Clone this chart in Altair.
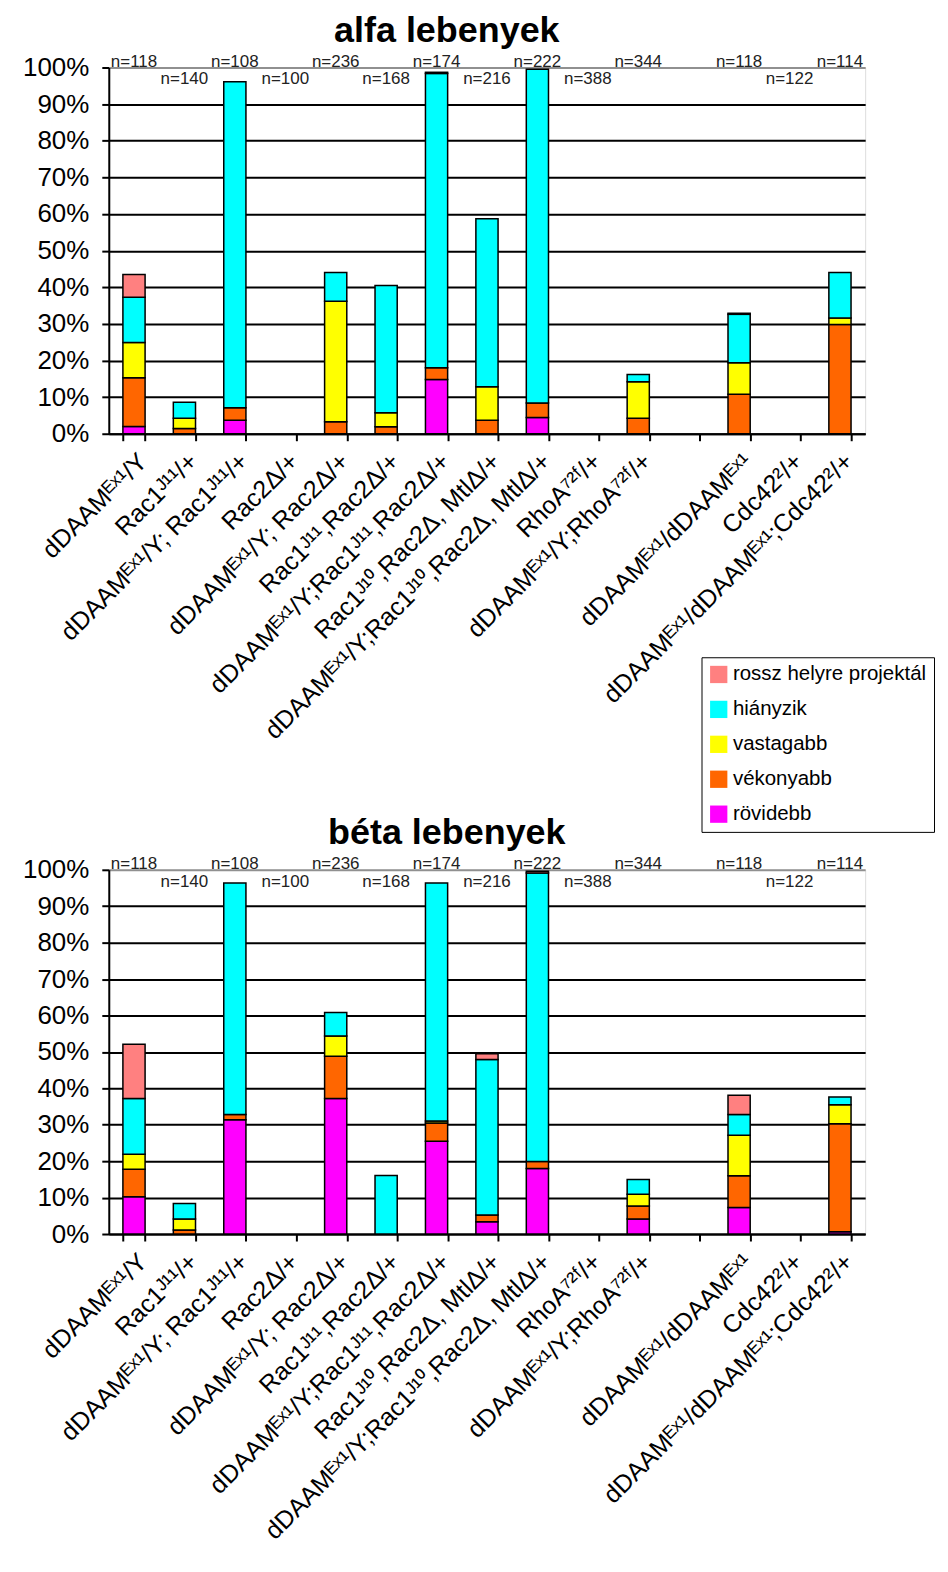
import altair as alt
import pandas as pd

FONT = "Liberation Sans"

categories = [
    "dDAAMᴱˣ¹/Y",
    "Rac1ᴶ¹¹/+",
    "dDAAMᴱˣ¹/Y; Rac1ᴶ¹¹/+",
    "Rac2Δ/+",
    "dDAAMᴱˣ¹/Y; Rac2Δ/+",
    "Rac1ᴶ¹¹,Rac2Δ/+",
    "dDAAMᴱˣ¹/Y;Rac1ᴶ¹¹,Rac2Δ/+",
    "Rac1ᴶ¹⁰,Rac2Δ, MtlΔ/+",
    "dDAAMᴱˣ¹/Y;Rac1ᴶ¹⁰,Rac2Δ, MtlΔ/+",
    "RhoA⁷²ᶠ/+",
    "dDAAMᴱˣ¹/Y;RhoA⁷²ᶠ/+",
    " ",
    "dDAAMᴱˣ¹/dDAAMᴱˣ¹",
    "Cdc42²/+",
    "dDAAMᴱˣ¹/dDAAMᴱˣ¹;Cdc42²/+",
]

n_counts = [118, 140, 108, 100, 236, 168, 174, 216, 222, 388, 344, None, 118, 122, 114]

series_stack = ["rövidebb", "vékonyabb", "vastagabb", "hiányzik", "rossz helyre projektál"]
legend_order = ["rossz helyre projektál", "hiányzik", "vastagabb", "vékonyabb", "rövidebb"]
legend_colors = ["#FF8080", "#00FFFF", "#FFFF00", "#FF6600", "#FF00FF"]

# alfa lebenyek (percent)
alfa_rovidebb = [2.0, 0, 3.7, 0, 0, 0, 14.8, 0, 4.4, 0, 0, 0, 0, 0, 0]
alfa_vekonyabb = [13.3, 1.4, 3.4, 0, 3.3, 1.9, 3.2, 3.7, 4.0, 0, 4.2, 0, 10.8, 0, 29.8]
alfa_vastagabb = [9.6, 2.8, 0, 0, 32.9, 3.8, 0, 9.1, 0, 0, 10.0, 0, 8.6, 0, 1.8]
alfa_hianyzik = [12.4, 4.4, 89.0, 0, 7.8, 34.8, 80.4, 45.9, 91.1, 0, 2.0, 0, 13.2, 0, 12.4]
alfa_rossz = [6.2, 0, 0, 0, 0, 0, 0.3, 0, 0, 0, 0, 0, 0.3, 0, 0]

# béta lebenyek (percent)
beta_rovidebb = [10.2, 0, 31.4, 0, 37.2, 0, 25.5, 3.4, 18.0, 0, 4.1, 0, 7.3, 0, 0.6]
beta_vekonyabb = [7.6, 1.1, 1.4, 0, 11.6, 0, 5.0, 1.8, 1.9, 0, 3.6, 0, 8.7, 0, 29.7]
beta_vastagabb = [4.1, 3.0, 0, 0, 5.6, 0, 0.5, 0, 0, 0, 3.2, 0, 11.1, 0, 5.2]
beta_hianyzik = [15.3, 4.3, 63.6, 0, 6.4, 16.1, 65.4, 42.7, 79.2, 0, 4.1, 0, 5.7, 0, 2.1]
beta_rossz = [14.9, 0, 0, 0, 0, 0, 0, 1.6, 0.5, 0, 0, 0, 5.3, 0, 0]


def long_table(cols):
    rows = []
    for i, c in enumerate(categories):
        for k, (s, vals) in enumerate(zip(series_stack, cols)):
            rows.append({"cat": c, "series": s, "rank": k, "value": vals[i]})
    return pd.DataFrame(rows)


def n_table():
    rows = []
    for i, (c, n) in enumerate(zip(categories, n_counts)):
        if n is not None:
            rows.append({"cat": c, "slot": i, "label": f"n={n}"})
    return pd.DataFrame(rows)


x_scale = alt.Scale(domain=categories, paddingInner=0.56, paddingOuter=0.28)
y_scale = alt.Scale(domain=[0, 100], nice=False)

x_axis = alt.Axis(
    title=None, labelAngle=-45, labelFontSize=25, labelFont=FONT, labelColor="black",
    labelPadding=8, labelLimit=0, labelOverlap=False, tickBand="extent", tickSize=7,
    tickColor="black", tickWidth=2, domainColor="black", domainWidth=2, grid=False,
)
y_axis = alt.Axis(
    title=None, values=list(range(0, 101, 10)), labelExpr="datum.value + '%'",
    labelFontSize=26, labelFont=FONT, labelColor="black", labelPadding=13,
    tickSize=7, tickColor="black", tickWidth=2, domainColor="black", domainWidth=2,
    grid=True, gridWidth=2, gridOpacity=1,
    gridColor={"condition": {"test": "datum.value >= 100", "value": "#909090"}, "value": "black"},
)

legend = alt.Legend(
    title=None, orient="none", legendX=594, legendY=591, symbolType="square",
    symbolSize=300, symbolStrokeWidth=0, labelFontSize=20.5, labelFont=FONT,
    labelColor="black", labelLimit=0, rowPadding=14, labelOffset=4, padding=7,
    strokeColor="black", fillColor="white",
)


def panel(title, cols, height):
    df = long_table(cols)
    ndf = n_table()
    x_enc = alt.X("cat:N", scale=x_scale, sort=categories, axis=x_axis, title=None)
    bars = alt.Chart(df).transform_filter("datum.value > 0").mark_bar(
        stroke="black", strokeWidth=1.5
    ).encode(
        x=x_enc,
        y=alt.Y("value:Q", stack="zero", scale=y_scale, axis=y_axis, title=None),
        color=alt.Color("series:N", scale=alt.Scale(domain=legend_order, range=legend_colors), legend=legend),
        order=alt.Order("rank:Q", sort="ascending"),
    )
    up = alt.Chart(ndf).transform_filter("datum.slot % 2 == 0").mark_text(
        baseline="alphabetic", fontSize=17, font=FONT, color="#222", dy=-1
    ).encode(x=x_enc, y=alt.YDatum(100, scale=y_scale, axis=y_axis, title=None), text="label:N")
    down = alt.Chart(ndf).transform_filter("datum.slot % 2 == 1").mark_text(
        baseline="alphabetic", fontSize=17, font=FONT, color="#222", dy=17
    ).encode(x=x_enc, y=alt.YDatum(100, scale=y_scale, axis=y_axis, title=None), text="label:N")
    return alt.layer(bars, up, down).properties(
        width=758, height=height,
        title=alt.TitleParams(title, fontSize=36, fontWeight="bold", font=FONT, color="black",
                              anchor="middle", frame="bounds", offset=3, dx=3),
    )


top = panel("alfa lebenyek", [alfa_rovidebb, alfa_vekonyabb, alfa_vastagabb, alfa_hianyzik, alfa_rossz], 367)
bottom = panel("béta lebenyek", [beta_rovidebb, beta_vekonyabb, beta_vastagabb, beta_hianyzik, beta_rossz], 365)

chart = alt.vconcat(top, bottom, spacing=70).properties(
    padding={"left": 14, "top": 2, "right": 5, "bottom": 0}
).configure_view(stroke="#909090", strokeWidth=1.5).configure(font=FONT)

chart.save("out.html", embed_options={"renderer": "svg", "actions": False})
